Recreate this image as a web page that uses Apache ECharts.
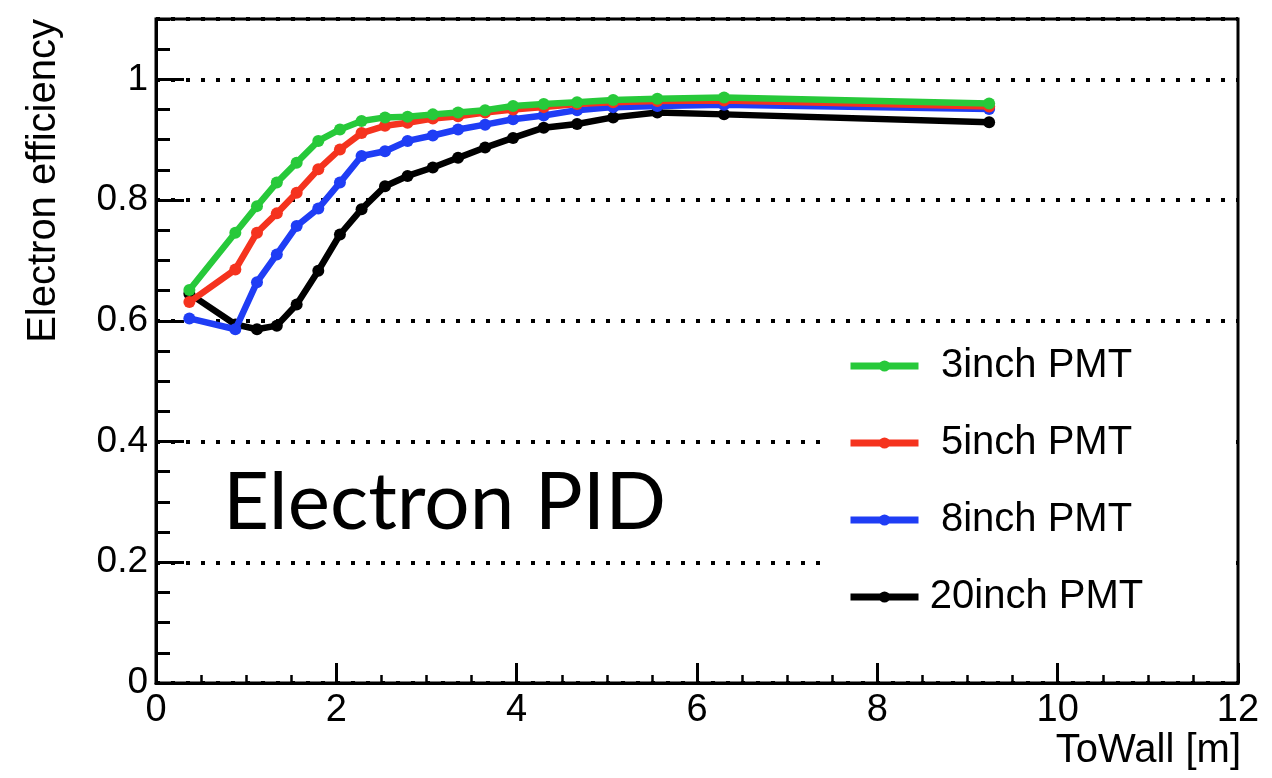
<!DOCTYPE html>
<html>
<head>
<meta charset="utf-8">
<script src="https://cdn.jsdelivr.net/npm/echarts@6/dist/echarts.min.js"></script>
<style>
html,body{margin:0;padding:0;background:#fff;}
#chart{width:1272px;height:778px;}
</style>
</head>
<body>
<div id="chart"></div>
<script>
// ToWall [m] positions of the points
var toWall = [0.37, 0.88, 1.12, 1.34, 1.56, 1.80, 2.04, 2.28, 2.54, 2.79, 3.07, 3.35, 3.65, 3.96, 4.30, 4.67, 5.07, 5.56, 6.30, 9.24];
// Electron efficiency per PMT size
var eff3inch  = [0.651, 0.746, 0.790, 0.829, 0.862, 0.898, 0.917, 0.931, 0.937, 0.938, 0.942, 0.945, 0.949, 0.956, 0.959, 0.962, 0.966, 0.968, 0.970, 0.960];
var eff5inch  = [0.631, 0.685, 0.746, 0.778, 0.812, 0.851, 0.884, 0.911, 0.923, 0.928, 0.935, 0.939, 0.945, 0.950, 0.954, 0.959, 0.962, 0.964, 0.965, 0.955];
var eff8inch  = [0.604, 0.586, 0.664, 0.710, 0.757, 0.786, 0.829, 0.873, 0.881, 0.898, 0.907, 0.917, 0.925, 0.934, 0.940, 0.949, 0.954, 0.956, 0.958, 0.951];
var eff20inch = [0.645, 0.594, 0.586, 0.592, 0.627, 0.683, 0.743, 0.785, 0.823, 0.840, 0.854, 0.870, 0.887, 0.903, 0.920, 0.926, 0.937, 0.945, 0.942, 0.929];
var seriesNames = ['3inch PMT', '5inch PMT', '8inch PMT', '20inch PMT'];
var seriesColors = ['#27c93a', '#f5331e', '#1f3df5', '#000000'];
var seriesValues = [eff3inch, eff5inch, eff8inch, eff20inch];
var xTicks = [0, 2, 4, 6, 8, 10, 12];
var yTicks = [0, 0.2, 0.4, 0.6, 0.8, 1];

function pairs(xs, ys) { return xs.map(function (x, i) { return [x, ys[i]]; }); }

var chart = echarts.init(document.getElementById('chart'), null, {renderer: 'canvas'});
var FONT = '"Liberation Sans", Arial, Helvetica, sans-serif';

var series = seriesNames.map(function (name, i) {
  return {
    name: name,
    type: 'line',
    data: pairs(toWall, seriesValues[i]),
    symbol: 'circle',
    symbolSize: 12,
    showSymbol: true,
    z: 10 - i,
    color: seriesColors[i],
    lineStyle: {width: 6.5, color: seriesColors[i]},
    itemStyle: {color: seriesColors[i]},
    emphasis: {disabled: true},
    animation: false
  };
});

var option = {
  animation: false,
  backgroundColor: '#ffffff',
  grid: {left: 156, top: 19, right: 34, bottom: 95, show: true, borderColor: '#000', borderWidth: 3, containLabel: false},
  xAxis: {
    type: 'value', min: xTicks[0], max: xTicks[xTicks.length - 1], interval: 2,
    name: 'ToWall [m]', nameLocation: 'end', nameGap: 3,
    nameTextStyle: {fontFamily: FONT, fontSize: 40, color: '#000', align: 'right', verticalAlign: 'top', padding: [48, 0, 0, 0]},
    axisLine: {show: true, lineStyle: {color: '#000', width: 3}},
    axisTick: {show: true, inside: true, length: 20, lineStyle: {color: '#000', width: 3}},
    minorTick: {show: true, splitNumber: 4, length: 8, lineStyle: {color: '#000', width: 2.5}},
    axisLabel: {fontFamily: FONT, fontSize: 38, color: '#000', margin: 9},
    splitLine: {show: false}
  },
  yAxis: [{
    type: 'value', min: 0, max: 1.1, interval: 0.2,
    name: 'Electron efficiency', nameLocation: 'end', nameRotate: 90, nameGap: 0,
    nameTextStyle: {fontFamily: FONT, fontSize: 40, color: '#000', align: 'right', verticalAlign: 'bottom', padding: [0, 0, 92, 0]},
    axisLine: {show: true, lineStyle: {color: '#000', width: 3}},
    axisTick: {show: true, inside: true, length: 28, lineStyle: {color: '#000', width: 3}},
    axisLabel: {fontFamily: FONT, fontSize: 37, color: '#000', margin: 8, showMaxLabel: false,
      formatter: function (v) { return yTicks.indexOf(Math.round(v * 10) / 10) >= 0 && Math.abs(v - Math.round(v * 10) / 10) < 1e-6 ? String(Math.round(v * 10) / 10) : ''; }},
    splitLine: {show: true, lineStyle: {color: '#000', width: 4, type: [4, 11], cap: 'butt'}}
  }, {
    type: 'value', min: 0, max: 1.1, interval: 0.05, position: 'left', offset: 0,
    axisLine: {show: false},
    axisTick: {show: true, inside: true, length: 14, lineStyle: {color: '#000', width: 3}},
    axisLabel: {show: false},
    splitLine: {show: false}
  }],
  legend: {
    orient: 'vertical', left: 825, top: 338,
    data: seriesNames,
    backgroundColor: '#ffffff',
    padding: [8, 85, 14, 22],
    itemWidth: 68, itemHeight: 14, itemGap: 37, itemTextGap: 8,
    selectedMode: false,
    lineStyle: {width: 7},
    itemStyle: {borderWidth: 0},
    formatter: function (n) { return '{t|' + n + '}'; },
    textStyle: {fontFamily: FONT, fontSize: 40, color: '#000',
      rich: {t: {fontFamily: FONT, fontSize: 40, color: '#000', width: 226, align: 'center', lineHeight: 40}}}
  },
  graphic: [{
    type: 'text', left: 223, top: 463, z: 100,
    style: {text: 'Electron PID', fontFamily: 'Lato, "Open Sans", sans-serif', fontSize: 80, fill: '#000'}
  }],
  series: series
};
chart.setOption(option);
</script>
</body>
</html>
